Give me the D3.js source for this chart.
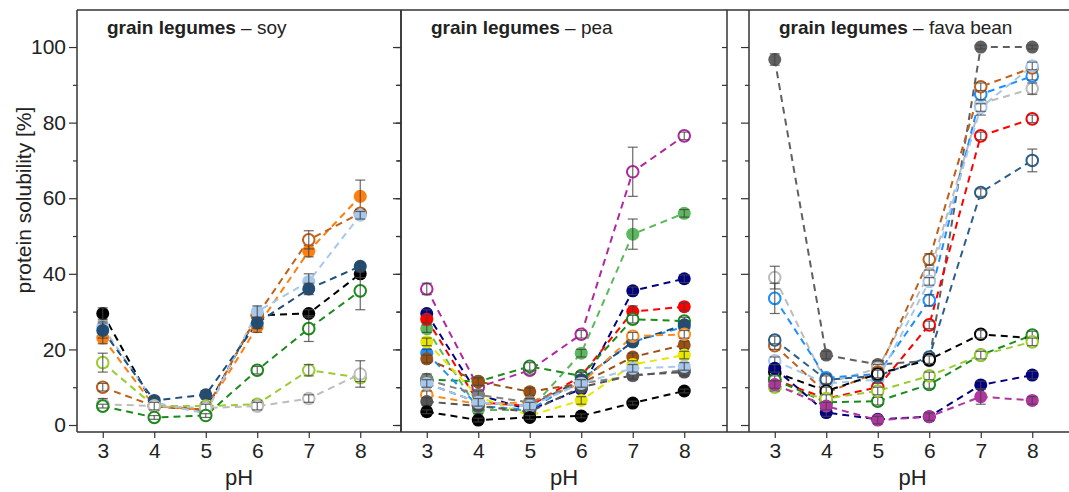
<!DOCTYPE html>
<html>
<head>
<meta charset="utf-8">
<script src="https://cdn.jsdelivr.net/npm/d3@7"></script>
<style>
  body { margin: 0; background: #fff; }
  text { font-family: "Liberation Sans", Arial, sans-serif; fill: #222; }
</style>
</head>
<body>
<svg id="chart"></svg>
<script>
// pH steps on the x axis
const pH = [3, 4, 5, 6, 7, 8];
const yTicks = [0, 20, 40, 60, 80, 100];
const yMinor = [10, 30, 50, 70, 90];
const panelNames = ["soy", "pea", "fava bean"];

// soy
const soyValues = [
  [29.5, 5, 4, 29, 29.5, 40],
  [23, 5, 4, 26, 46, 60.5],
  [10, 5, 4, 29, 49, 56],
  [26, 6, 3, 30, 38, 55.5],
  [25, 6.5, 8, 27, 36, 42],
  [16.5, 5, 5, 5.5, 14.5, 12.5],
  [5.5, 5, 4.5, 5, 7, 13.5],
  [5, 2, 2.5, 14.5, 25.5, 35.5]
];
const soyErrors = [
  [1.5, 1, 1, 1.5, 1, 1],
  [1.5, 1, 1, 1.5, 1.5, 4.3],
  [1, 1, 1, 1, 2.4, 1],
  [1.5, 1, 1, 1.5, 2, 1],
  [2, 1, 1, 1.5, 1.5, 1],
  [2.5, 1, 1, 1, 1.5, 1],
  [1.5, 1, 1, 1, 1, 3.5],
  [0.5, 0.5, 0.5, 1, 3.4, 5]
];

// pea
const peaValues = [
  [36, 10, 14.5, 24, 67, 76.5],
  [25.5, 4, 4, 19, 50.5, 56],
  [29.5, 8, 4, 9.5, 35.5, 38.7],
  [28, 6, 5, 13, 30, 31.3],
  [12, 11.5, 15.5, 13, 28, 27.5],
  [19, 5, 4, 12, 22, 26],
  [11, 6, 5, 12, 22, 26.5],
  [17.5, 11.5, 8.8, 11, 18, 21.2],
  [22, 7.5, 2.5, 6.5, 16, 18.5],
  [8, 5.5, 6, 11, 23.5, 24],
  [12, 8, 6, 11, 13, 14.5],
  [6.2, 5, 3.5, 10, 13.2, 14],
  [11, 6, 5, 11, 15, 15.5],
  [3.5, 1.3, 2, 2.4, 5.8, 9]
];
const peaErrors = [
  [1.5, 0.8, 1, 1, 6.5, 1],
  [1, 1, 1, 1, 4, 1],
  [1, 1, 1, 1, 1, 1],
  [1, 1, 1, 1, 1.5, 1],
  [1, 1, 1, 1, 1, 1],
  [1, 1, 1, 1, 1, 1],
  [1, 1, 1, 2, 1, 1],
  [1, 1, 1, 1, 1, 1],
  [1, 1, 1, 1, 1, 1],
  [1, 1, 1, 1, 1, 1],
  [1.5, 1, 1, 2, 1, 1],
  [1, 1, 1, 1, 1, 1],
  [1, 1, 1, 1, 1, 1],
  [0.5, 0.5, 0.5, 0.5, 0.5, 0.5]
];

// fava bean
const favaValues = [
  [96.7, 18.5, 16, 17, 100, 100],
  [39, 11, 15, 40, 85, 89],
  [33.5, 12.5, 13.5, 33, 87.5, 92.3],
  [21, 8.5, 14, 43.8, 89.5, 94.5],
  [17, 11, 12, 38, 84, 95],
  [12, 7, 10, 26.5, 76.5, 81],
  [22.5, 12, 13, 18, 61.5, 70],
  [14, 9, 13.5, 17.3, 24, 23],
  [12, 6, 6.3, 10.7, 18.5, 23.8],
  [10, 7, 9, 13, 18.5, 22],
  [15, 3.3, 1.5, 2.2, 10.6, 13.2],
  [10.7, 5, 1.3, 2.2, 7.5, 6.5]
];
const favaErrors = [
  [1.5, 1, 1, 1, 0.5, 0.5],
  [3, 1, 1, 1, 3, 1.5],
  [4, 1, 1.5, 1.5, 1.5, 1],
  [1, 1, 1, 1.5, 1, 1],
  [1, 1, 1, 1, 1, 1],
  [1, 1, 1, 1, 1, 1],
  [1, 1, 1, 1, 1, 3],
  [1, 1, 1, 1, 1, 1],
  [1, 1, 1, 1, 1, 1],
  [1, 1, 1, 1, 1, 1],
  [1, 1, 1, 1, 1, 1],
  [1, 1, 1, 1, 2, 1]
];

// styles: colour + filled marker or not
const soyColors = ["#000000", "#ff7f0e", "#c0601a", "#a6c8ea", "#1f4e79", "#9acd32", "#bdbdbd", "#1a8c1a"];
const soyFilled = [true, true, false, true, true, false, false, false];
const peaColors = ["#b0279e", "#5cb85c", "#000080", "#ff0000", "#1a8c1a", "#1e8fff", "#1f4e79", "#9c5014",
                   "#e6e600", "#ff8c1a", "#808080", "#555555", "#a6c8ea", "#000000"];
const peaFilled = [false, true, true, true, false, true, true, true, true, false, true, true, true, true];
const favaColors = ["#606060", "#bdbdbd", "#1e8fff", "#c0601a", "#a6c8ea", "#ff0000", "#2c5f8a", "#000000",
                    "#1a8c1a", "#9acd32", "#000080", "#b0359e"];
const favaFilled = [true, false, false, false, false, false, false, false, false, false, true, true];

const W = 1069, H = 492;
const svg = d3.select("svg#chart").attr("width", W).attr("height", H);

const yTop = 10, yBottom = 432;
const lefts = [77, 401, 749];
const widths = [324, 326, 327];

const y = d3.scaleLinear().domain([-1.85, 109.8]).range([yBottom, yTop]);

//outer frame lines crossing the gap
svg.append("line").attr("x1", lefts[0]).attr("x2", W + 10).attr("y1", yTop).attr("y2", yTop)
   .attr("stroke", "#333").attr("stroke-width", 1.5);
svg.append("line").attr("x1", lefts[0]).attr("x2", W + 10).attr("y1", yBottom).attr("y2", yBottom)
   .attr("stroke", "#333").attr("stroke-width", 1.5);

const panels = [
  {vals: soyValues, errs: soyErrors, cols: soyColors, fill: soyFilled},
  {vals: peaValues, errs: peaErrors, cols: peaColors, fill: peaFilled},
  {vals: favaValues, errs: favaErrors, cols: favaColors, fill: favaFilled}
];

panels.forEach((p, i) => {
  const x0 = lefts[i], pw = widths[i];
  const x = d3.scaleLinear().domain([2.5, 8.83]).range([x0, x0 + 326]);
  const g = svg.append("g");

  // left axis, ticks outward
  g.append("g").attr("transform", `translate(${x0},0)`)
   .call(d3.axisLeft(y).tickValues(yTicks).tickSize(8).tickPadding(3).tickFormat(i == 0 ? d3.format("d") : ""))
   .call(a => a.select(".domain").remove());
  g.append("g").attr("transform", `translate(${x0},0)`)
   .call(d3.axisLeft(y).tickValues(yMinor).tickSize(4).tickFormat(""))
   .call(a => a.select(".domain").remove());
  // right ticks inward
  g.append("g").attr("transform", `translate(${x0 + pw},0)`)
   .call(d3.axisLeft(y).tickValues(yTicks.concat(yMinor)).tickSize(5).tickFormat(""))
   .call(a => a.select(".domain").remove());
  // bottom axis
  g.append("g").attr("transform", `translate(0,${yBottom})`)
   .call(d3.axisBottom(x).tickValues(pH).tickSize(6).tickPadding(5).tickFormat(d3.format("d")))
   .call(a => a.select(".domain").remove());

  g.selectAll(".tick line").attr("stroke", "#333").attr("stroke-width", 1.2);
  g.selectAll(".tick text").style("font-size", "21px").attr("fill", "#222")
   .style("font-family", "'Liberation Sans', Arial, sans-serif");

  // frame
  g.append("line").attr("x1", x0).attr("x2", x0).attr("y1", yTop).attr("y2", yBottom)
   .attr("stroke", "#333").attr("stroke-width", 1.5);
  g.append("line").attr("x1", x0 + pw).attr("x2", x0 + pw).attr("y1", yTop).attr("y2", yBottom)
   .attr("stroke", "#333").attr("stroke-width", 1.5);

  // title
  const t = g.append("text").attr("x", x0 + 30).attr("y", 34).style("font-size", "19px");
  t.append("tspan").attr("font-weight", "bold").text("grain legumes");
  t.append("tspan").text(" \u2013 " + panelNames[i]);

  // pH label
  g.append("text").attr("x", x0 + pw / 2).attr("y", 485).attr("text-anchor", "middle")
   .style("font-size", "22px").text("pH");

  const line = d3.line().x((d, k) => x(pH[k])).y(d => y(d));

  // dashed lines first
  p.vals.forEach((vals, s) => {
    g.append("path").datum(vals)
     .attr("d", line)
     .attr("fill", "none")
     .attr("stroke", p.cols[s])
     .attr("stroke-width", 2)
     .attr("stroke-dasharray", "7,5");
  });

  // markers + error bars
  p.vals.forEach((vals, s) => {
    const col = p.cols[s];
    vals.forEach((v, k) => {
      const cx = x(pH[k]), e = p.errs[s][k];
      g.append("circle")
       .attr("cx", cx).attr("cy", y(v))
       .attr("r", p.fill[s] ? 6.5 : 5.8)
       .attr("fill", p.fill[s] ? col : "white")
       .attr("stroke", col)
       .attr("stroke-width", p.fill[s] ? 0 : 2);
      g.append("line")
       .attr("x1", cx).attr("x2", cx).attr("y1", y(v - e)).attr("y2", y(v + e))
       .attr("stroke", "#444").attr("stroke-width", 1.2).attr("opacity", 0.8);
      [v - e, v + e].forEach(c => {
        g.append("line")
         .attr("x1", cx - 5).attr("x2", cx + 5).attr("y1", y(c)).attr("y2", y(c))
         .attr("stroke", "#444").attr("stroke-width", 1.2).attr("opacity", 0.8);
      });
    });
  });
});

// y axis label
svg.append("text")
   .attr("transform", "translate(31,200) rotate(-90)")
   .attr("text-anchor", "middle")
   .style("font-size", "21px")
   .text("protein solubility [%]");
</script>
</body>
</html>
